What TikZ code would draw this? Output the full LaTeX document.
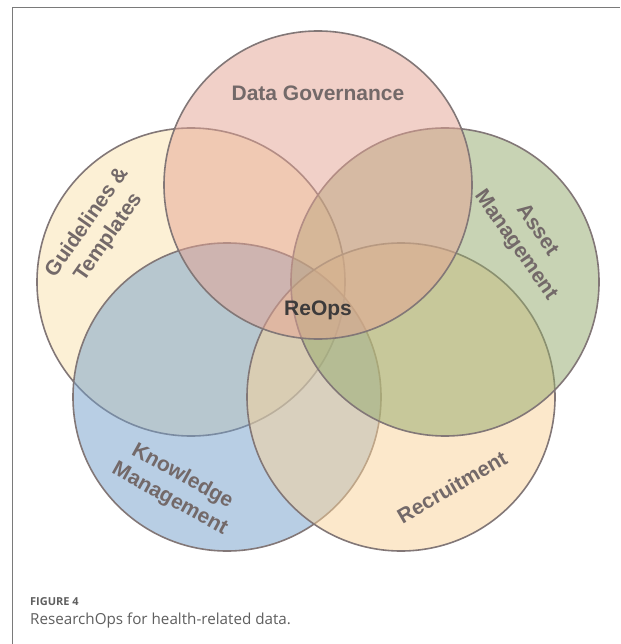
\documentclass[tikz,border=0pt]{standalone}
\usepackage{fontspec}
\setmainfont{Liberation Sans}
\newfontfamily\capfont{Open Sans}
\definecolor{framegray}{HTML}{7A7A7A}
\definecolor{ringgray}{HTML}{827777}
\definecolor{labelgray}{HTML}{736969}
\definecolor{reopsgray}{HTML}{3D3B3B}
\definecolor{capgray}{HTML}{5F5F5F}
\definecolor{cpink}{RGB}{229,163,147}
\definecolor{cyellow}{RGB}{251,227,173}
\definecolor{cgreen}{RGB}{147,169,107}
\definecolor{cblue}{RGB}{115,159,203}
\definecolor{corange}{RGB}{251,211,153}
\tikzset{
  ring/.style={draw=ringgray, line width=1.6pt, fill opacity=0.5},
  lbl/.style={text=labelgray, font=\fontsize{21}{26}\selectfont\bfseries, align=center, inner sep=0pt},
}
\begin{document}
\begin{tikzpicture}[x=1pt,y=-1pt]
\useasboundingbox (0,0) rectangle (620,644);
\fill[white] (0,0) rectangle (620,644);
\coordinate (fb) at (12,644);
\coordinate (fc) at (12,7.5);
\coordinate (fr) at (620,7.5);
\draw[framegray, line width=1pt] (fb) -- (fc) -- (fr);
% circles
\draw[ring, fill=cyellow] (191,282) circle[radius=154];
\draw[ring, fill=cblue] (227,397) circle[radius=154];
\draw[ring, fill=corange] (401,397) circle[radius=154];
\draw[ring, fill=cgreen] (445,282) circle[radius=154];
\draw[ring, fill=cpink] (318,185) circle[radius=154];
% labels
\node[lbl] (dg) at (318,93) {Data Governance};
\node[lbl, rotate=55] (gt) at (98,230) {Guidelines \&\\Templates};
\node[lbl, rotate=-55] (am) at (526,238) {Asset\\Management};
\node[lbl, rotate=-29] (km) at (176,488) {Knowledge\\Management};
\node[lbl, rotate=30] (rc) at (452,487) {Recruitment};
\node[lbl, text=reopsgray, anchor=base] (ro) at (318,315) {ReOps};
% caption
\node[anchor=base west, inner sep=0pt, text=capgray, font=\capfont\fontsize{11}{13}\selectfont\bfseries] (fig) at (30,605) {FIGURE 4};
\node[anchor=base west, inner sep=0pt, text=capgray, font=\capfont\fontsize{15.2}{18}\selectfont] (cap) at (30,624) {ResearchOps for health-related data.};
\end{tikzpicture}
\end{document}
